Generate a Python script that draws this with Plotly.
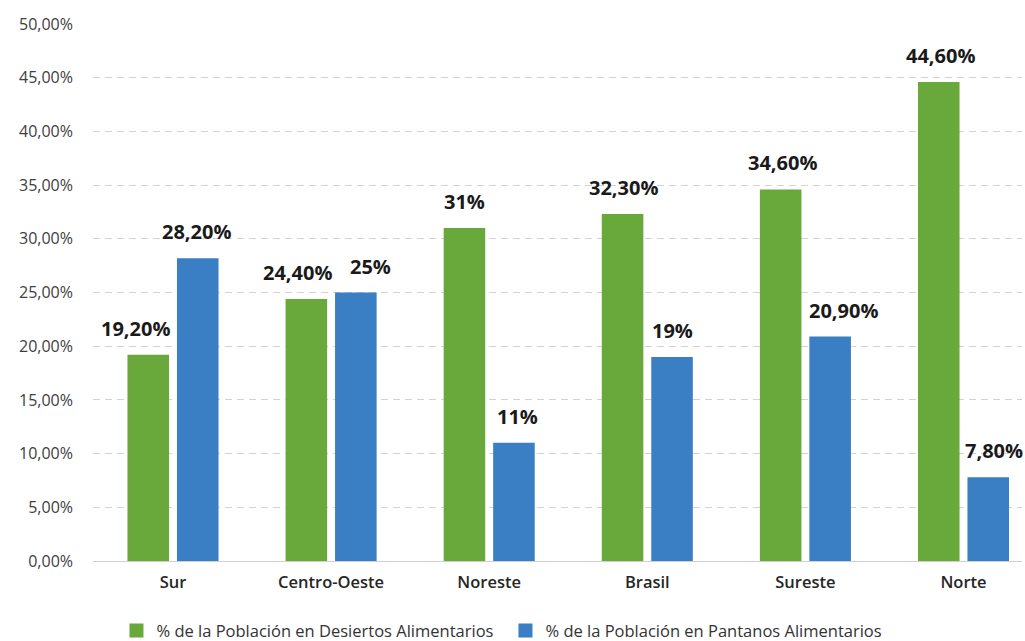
import plotly.graph_objects as go

categories = ["Sur", "Centro-Oeste", "Noreste", "Brasil", "Sureste", "Norte"]
desiertos = [19.2, 24.4, 31.0, 32.3, 34.6, 44.6]
pantanos = [28.2, 25.0, 11.0, 19.0, 20.9, 7.8]
desiertos_txt = ["19,20%", "24,40%", "31%", "32,30%", "34,60%", "44,60%"]
pantanos_txt = ["28,20%", "25%", "11%", "19%", "20,90%", "7,80%"]
series_names = ["% de la Población en Desiertos Alimentarios",
                "% de la Población en Pantanos Alimentarios"]
y_ticks = [0, 5, 10, 15, 20, 25, 30, 35, 40, 45, 50]
y_tick_text = ["0,00%", "5,00%", "10,00%", "15,00%", "20,00%", "25,00%",
               "30,00%", "35,00%", "40,00%", "45,00%", "50,00%"]

# horizontal nudges (px) of the value labels, as placed in the original
desiertos_nudge = [-13, -9, 0, 1, 2, 2]
pantanos_nudge = [-1, 15, 4, 0, 13, 6]

GREEN = "#69A83B"
BLUE = "#3A7EC4"
FONT = "Open Sans"

fig = go.Figure()
fig.add_trace(go.Bar(
    x=categories, y=desiertos, name=series_names[0], showlegend=False,
    marker=dict(color=GREEN, line=dict(width=0)),
))
fig.add_trace(go.Bar(
    x=categories, y=pantanos, name=series_names[1], showlegend=False,
    marker=dict(color=BLUE, line=dict(width=0)),
))
# legend entries with larger square swatches
for name, col in ((series_names[0], GREEN), (series_names[1], BLUE)):
    fig.add_trace(go.Scatter(
        x=[None], y=[None], mode="markers", name=name,
        marker=dict(symbol="square", size=14, color=col),
    ))

annotations = []
for vals, txts, nudges, shift in ((desiertos, desiertos_txt, desiertos_nudge, -24.75),
                                  (pantanos, pantanos_txt, pantanos_nudge, 24.75)):
    for c, v, t, n in zip(categories, vals, txts, nudges):
        annotations.append(dict(
            x=c, y=v, xref="x", yref="y", text=t, showarrow=False,
            xanchor="center", yanchor="bottom", xshift=shift + n, yshift=11,
            font=dict(family=FONT, size=20, color="#1a1a1a", weight="bold"),
        ))

fig.update_layout(
    width=1025, height=641,
    margin=dict(l=93, r=3, t=24, b=80, autoexpand=False),
    paper_bgcolor="white", plot_bgcolor="white",
    barmode="group", bargap=0.374, bargroupgap=0.16,
    font=dict(family=FONT, color="#404040"),
    annotations=annotations,
    xaxis=dict(
        range=[-0.506, 5.37],
        showgrid=False, showline=True, linecolor="#d0d0d0", linewidth=1,
        ticks="", tickfont=dict(family=FONT, size=16.5, color="#262626", weight=600),
        ticklabelstandoff=6,
        fixedrange=True,
    ),
    yaxis=dict(
        range=[0, 50], tickvals=y_ticks, ticktext=y_tick_text,
        showgrid=True, gridcolor="#d3d3d3", griddash="7px,5px", gridwidth=1,
        zeroline=False, showline=False, ticks="",
        tickfont=dict(family=FONT, size=16, color="#404040"),
        ticklabelstandoff=19,
        fixedrange=True,
    ),
    legend=dict(
        orientation="h", x=0.444, xanchor="center", y=-0.13, yanchor="middle",
        font=dict(family=FONT, size=16.5, color="#333333"),
        itemwidth=30, traceorder="normal",
        entrywidth=344, entrywidthmode="pixels",
    ),
)

fig.write_html("out.html", config={"displayModeBar": False},
               post_script="document.body.style.margin='0px';")
